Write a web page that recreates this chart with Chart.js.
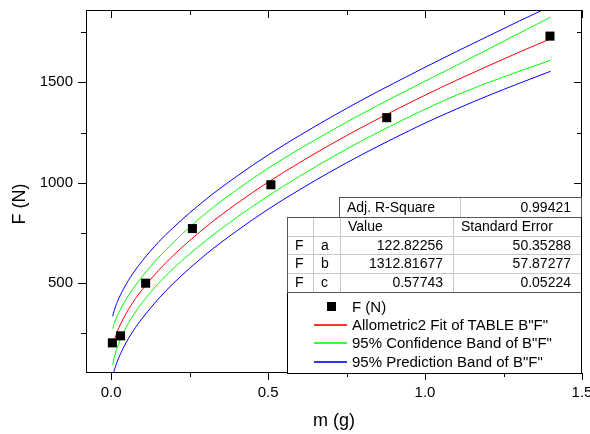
<!DOCTYPE html>
<html>
<head>
<meta charset="utf-8">
<script src="https://cdn.jsdelivr.net/npm/chart.js@4.4.1/dist/chart.umd.min.js"></script>
<style>
  html, body { margin: 0; padding: 0; background: #fff; }
  #wrap { position: relative; width: 590px; height: 434px; font-family: "Liberation Sans", Arial, sans-serif; color: #000; }
  #chart { position: absolute; left: 0; top: 0; }
  .ov { position: absolute; box-sizing: border-box; white-space: nowrap; }
</style>
</head>
<body>
<div id="wrap">
  <canvas id="chart" width="590" height="434"></canvas>
</div>
<script>
// measured points, m (g) vs F (N)
const massG = [0.004, 0.03, 0.11, 0.259, 0.509, 0.878, 1.398];
const forceN = [203, 238, 500, 772, 990, 1324, 1730];

// Allometric2 fit curve and 95% bands
const curveX = [0.005, 0.01, 0.02, 0.04, 0.07, 0.1, 0.15, 0.2, 0.3, 0.4, 0.5, 0.6, 0.7, 0.8, 0.9, 1.0, 1.1, 1.2, 1.3, 1.4];
const fitF = [184, 215, 260, 327, 406, 470, 562, 641, 778, 896, 1003, 1100, 1191, 1277, 1358, 1436, 1510, 1581, 1650, 1717];
const confUpper = [274, 300, 338, 399, 473, 535, 626, 706, 846, 965, 1072, 1168, 1258, 1344, 1426, 1506, 1584, 1664, 1745, 1824];
const confLower = [94, 130, 182, 255, 339, 405, 498, 576, 710, 827, 934, 1032, 1124, 1210, 1290, 1366, 1436, 1498, 1555, 1610];
const predUpper = [336, 365, 408, 473, 550, 613, 703, 780, 915, 1032, 1138, 1235, 1326, 1413, 1495, 1575, 1653, 1729, 1805, 1879];
const predLower = [32, 65, 112, 181, 262, 327, 421, 502, 641, 760, 868, 965, 1056, 1141, 1221, 1297, 1367, 1433, 1495, 1555];

const xMajorTicks = [0, 0.5, 1, 1.5];
const xMinorTicks = [0.25, 0.75, 1.25];
const yMajorTicks = [500, 1000, 1500];
const yMinorTicks = [250, 750, 1250, 1750];

// fit report table
const adjRSquare = "0.99421";
const paramNames = ["a", "b", "c"];
const paramValues = ["122.82256", "1312.81677", "0.57743"];
const paramErrors = ["50.35288", "57.87277", "0.05224"];

const legendLabels = ["F (N)", 'Allometric2 Fit of TABLE B"F"', '95% Confidence Band of B"F"', '95% Prediction Band of B"F"'];
const legendColors = ["#000000", "#ff0000", "#00ff00", "#0000ff"];

const FONT = "Liberation Sans";
const pts = (xs, ys) => xs.map((x, i) => ({ x: x, y: ys[i] }));
const curve = (ys, color) => ({
  data: pts(curveX, ys),
  showLine: true,
  borderColor: color,
  borderWidth: 1,
  pointRadius: 0,
  cubicInterpolationMode: "monotone",
});

// frame + Origin style ticks (in/out), and the rotated y title
const framePlugin = {
  id: "frame",
  afterDraw(chart) {
    const { ctx, chartArea: a, scales } = chart;
    const sx = scales.x, sy = scales.y;
    ctx.save();
    ctx.strokeStyle = "#000";
    ctx.lineWidth = 1;
    ctx.strokeRect(a.left + 0.5, a.top + 0.5, a.right - a.left - 1, a.bottom - a.top - 1);
    ctx.beginPath();
    const tickX = (v, len) => {
      const p = Math.round(sx.getPixelForValue(v)) + 0.5;
      ctx.moveTo(p, a.bottom); ctx.lineTo(p, a.bottom + len);
      ctx.moveTo(p, a.top); ctx.lineTo(p, a.top + len + 1);
    };
    const tickY = (v, len) => {
      const p = Math.round(sy.getPixelForValue(v)) + 0.5;
      ctx.moveTo(a.left, p); ctx.lineTo(a.left - len - 1, p);
      ctx.moveTo(a.right, p); ctx.lineTo(a.right - len - 1, p);
    };
    xMajorTicks.forEach((v) => tickX(v, 7));
    xMinorTicks.forEach((v) => tickX(v, 4));
    yMajorTicks.forEach((v) => tickY(v, 7));
    yMinorTicks.forEach((v) => tickY(v, 4));
    ctx.stroke();

    ctx.translate(20, 204);
    ctx.rotate(-Math.PI / 2);
    ctx.fillStyle = "#000";
    ctx.font = "18px '" + FONT + "'";
    ctx.textAlign = "center";
    ctx.textBaseline = "middle";
    ctx.fillText("F (N)", 0, 0);
    ctx.restore();
  },
};

new Chart(document.getElementById("chart"), {
  type: "scatter",
  data: {
    datasets: [
      {
        label: legendLabels[0],
        data: pts(massG, forceN),
        pointStyle: "rect",
        pointRadius: 6.4,
        pointBorderWidth: 0,
        backgroundColor: "#000",
        borderColor: "#000",
      },
      Object.assign(curve(fitF, legendColors[1]), { label: legendLabels[1] }),
      Object.assign(curve(confUpper, legendColors[2]), { label: legendLabels[2] }),
      curve(confLower, legendColors[2]),
      Object.assign(curve(predUpper, legendColors[3]), { label: legendLabels[3] }),
      curve(predLower, legendColors[3]),
    ],
  },
  options: {
    responsive: false,
    animation: false,
    devicePixelRatio: 1,
    layout: { padding: { top: 10, right: 8, left: 0, bottom: 0 } },
    plugins: { legend: { display: false }, tooltip: { enabled: false } },
    scales: {
      x: {
        type: "linear",
        min: -0.08,
        max: 1.5,
        afterBuildTicks: (s) => { s.ticks = xMajorTicks.map((v) => ({ value: v })); },
        afterFit: (s) => { s.height = 61; s.paddingLeft = 0; s.paddingRight = 0; },
        grid: { display: false, drawTicks: false },
        border: { display: false },
        ticks: {
          color: "#000",
          font: { family: FONT, size: 15 },
          padding: 11,
          maxRotation: 0,
          autoSkip: false,
          callback: (v) => Number(v).toFixed(1),
        },
        title: { display: true, text: "m (g)", color: "#000", font: { family: FONT, size: 18 }, padding: { top: 0, bottom: 2 } },
      },
      y: {
        type: "linear",
        min: 53,
        max: 1860,
        afterBuildTicks: (s) => { s.ticks = yMajorTicks.map((v) => ({ value: v })); },
        afterFit: (s) => { s.width = 86; s.paddingTop = 0; s.paddingBottom = 0; },
        grid: { display: false, drawTicks: false },
        border: { display: false },
        ticks: {
          color: "#000",
          font: { family: FONT, size: 15 },
          padding: 13,
          autoSkip: false,
          callback: (v) => String(v),
        },
      },
    },
  },
  plugins: [framePlugin],
});

// fit report + legend box, laid over the plot corner
const wrap = document.getElementById("wrap");
function ov(x, y, w, h, css, text) {
  const d = document.createElement("div");
  d.className = "ov";
  d.style.cssText = `left:${x}px;top:${y}px;width:${w}px;height:${h}px;` + (css || "");
  if (text !== undefined) d.textContent = text;
  wrap.appendChild(d);
  return d;
}
const cellTxt = (x, y, w, h, text, right) =>
  ov(x, y, w, h, `font-size:14px;line-height:${h}px;` + (right ? "text-align:right;padding-right:10px;" : "padding-left:8px;"), text);

// backgrounds and outlines
ov(339, 197, 243, 21, "background:#fff;border:1px solid #555;");
ov(287, 217, 295, 157, "background:#fff;border-left:1px solid #000;border-right:1px solid #000;border-bottom:1px solid #000;");
ov(287, 217, 295, 76, "border:1px solid #555;border-right-color:#000;");
// inner grid lines
ov(460, 198, 1, 19, "background:#c8c8c8;");
[313, 340, 453].forEach((x) => ov(x, 218, 1, 74, "background:#c8c8c8;"));
[236, 254, 273].forEach((y) => ov(288, y, 293, 1, "background:#c8c8c8;"));

cellTxt(339, 197, 121, 20, "Adj. R-Square");
cellTxt(460, 197, 121, 20, adjRSquare, true);
cellTxt(340, 217, 113, 19, "Value");
cellTxt(453, 217, 128, 19, "Standard Error");
const rowTops = [236, 254, 273];
paramNames.forEach((p, i) => {
  const y = rowTops[i], h = (i < 2 ? rowTops[i + 1] : 292) - y;
  cellTxt(287, y, 26, h, "F");
  cellTxt(313, y, 27, h, p);
  cellTxt(340, y, 113, h, paramValues[i], true);
  cellTxt(453, y, 128, h, paramErrors[i], true);
});

// legend rows
legendLabels.forEach((lab, i) => {
  const cy = 306.7 + i * 18.3;
  if (i === 0) ov(327, Math.round(cy - 4.5), 9, 9, "background-color:#000;");
  else ov(314, Math.round(cy) - 1, 33, 2, "background-color:" + legendColors[i] + ";opacity:0.8;");
  ov(352, cy - 9, 230, 18, "font-size:15px;line-height:18px;", lab);
});
</script>
</body>
</html>
